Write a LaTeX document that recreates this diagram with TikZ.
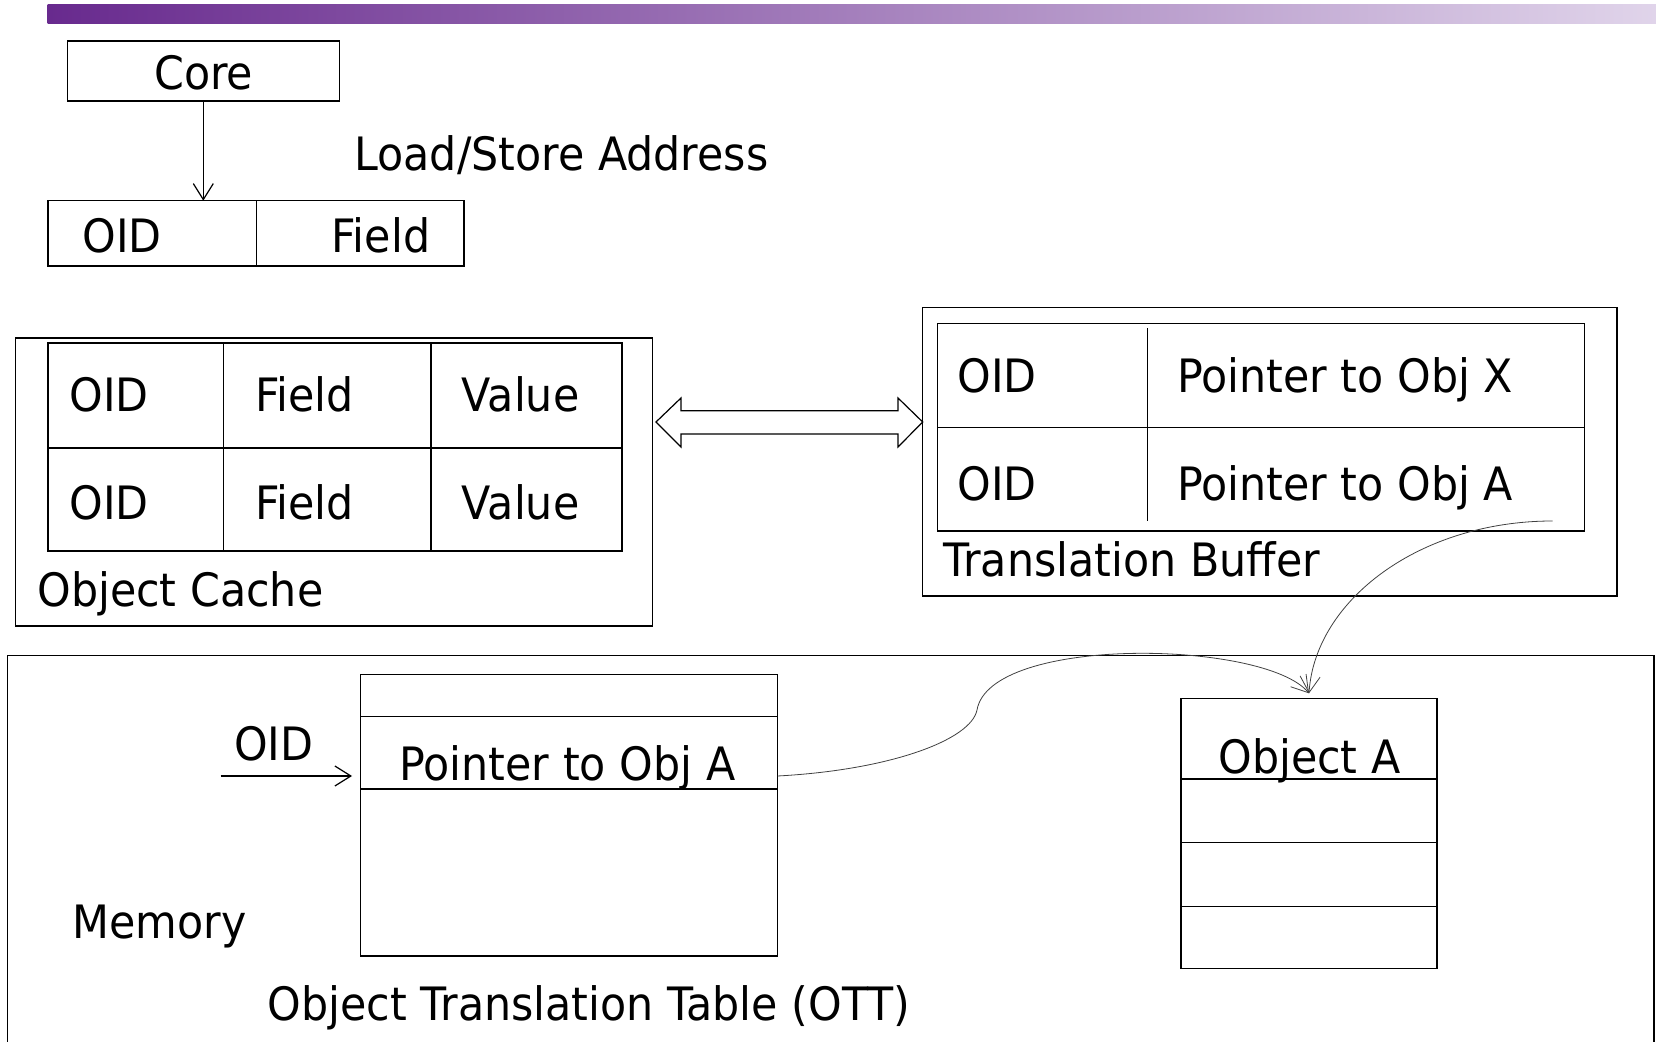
\documentclass[tikz,border=0pt]{standalone}
\usepackage{fontspec}
\setmainfont{DejaVu Sans}[FakeStretch=0.93]
\usetikzlibrary{arrows.meta,fit,calc}
\definecolor{barL}{RGB}{104,42,142}
\definecolor{barM}{RGB}{152,114,174}
\definecolor{barR}{RGB}{224,212,234}
\begin{document}
\begin{tikzpicture}[x=0.5pt,y=-0.5pt,
  box/.style={draw=black,line width=0.55pt,inner sep=0pt,outer sep=0pt},
  rule/.style={draw=black,line width=0.55pt},
  txt/.style={anchor=base west,inner sep=0pt,font=\fontsize{23pt}{27pt}\selectfont},
  barb/.style={draw=black,line width=0.6pt,-{Straight Barb[length=8pt,width=10pt]}},
  link/.style={draw=black!75,line width=0.4pt,-{Straight Barb[length=8pt,width=10pt]}},
  hollowarrow/.style={draw=black,line width=0.6pt,fill=white}]
\useasboundingbox (0,0) rectangle (1656,1042);
\clip (0,0) rectangle (1656,1042);

% title bar
\shade[left color=barL,middle color=barM,right color=barR] (47.5,5) rectangle (1656,23.5);

% core and the load/store address
\node[box,fit={(67.3,41)(339.3,101)}] (core) {};
\node[txt,anchor=base] at (203.7,89.5) {Core};
\node[txt] at (354,171) {Load/Store Address};
\node[box,fit={(48,200.7)(464,266)}] (addr) {};
\draw[rule] (256.6,200.7) -- (256.6,266);
\node[txt] at (82,252.5) {OID};
\node[txt] at (331,252.5) {Field};
\draw[barb] (core.south) -- (core.south |- addr.north);

% object cache
\node[box,fit={(15.8,338)(652.7,626)}] (cache) {};
\node[box,fit={(48,343)(622,551)}] (ctab) {};
\draw[rule] (48,448) -- (622,448);
\draw[rule] (223.3,343) -- (223.3,551);
\draw[rule] (431,343) -- (431,551);
\node[txt] at (69,412) {OID};
\node[txt] at (254.7,412) {Field};
\node[txt] at (461.5,412) {Value};
\node[txt] at (69,520) {OID};
\node[txt] at (254.7,520) {Field};
\node[txt] at (461.5,520) {Value};
\node[txt] at (37,607) {Object Cache};

% translation buffer
\node[box,fit={(922.7,307.3)(1617,596)}] (tb) {};
\node[box,fit={(937.6,323.3)(1584.7,531)}] (tbtab) {};
\draw[rule] (937.6,427.3) -- (1584.7,427.3);
\draw[rule] (1147.3,328.3) -- (1147.3,521);
\node[txt] at (957,393) {OID};
\node[txt] at (1176.7,393) {Pointer to Obj X};
\node[txt] at (957,500.3) {OID};
\node[txt] at (1176.7,500.3) {Pointer to Obj A};
\node[txt] at (943,577) {Translation Buffer};

% two-way arrow between cache and buffer
\coordinate (dl) at (656,422);
\coordinate (dr) at (tb.west |- dl);
\draw[hollowarrow] (dl) -- (681,398) -- (681,410.7) -- (898,410.7) -- (898,398)
  -- (dr) -- (898,447) -- (898,434) -- (681,434) -- (681,447) -- cycle;

% memory
\node[box,fit={(7.3,655.7)(1654,1070)}] (memory) {};
\node[txt] at (72.2,938.7) {Memory};

% object translation table
\node[box,fit={(360.9,674.3)(777.7,956)}] (ott) {};
\draw[rule] (360.9,716.7) -- (777.7,716.7);
\draw[rule] (360.9,789) -- (777.7,789);
\node[txt] at (399,780.5) {Pointer to Obj A};
\node[txt] at (233.8,761) {OID};
\coordinate (oidin) at (220.7,776);
\coordinate (oidtip) at (352,776);
\draw[barb] (oidin) -- (oidtip);
\node[txt] at (267.4,1020.3) {Object Translation Table (OTT)};

% object A
\node[box,fit={(1181,698.3)(1437,968.4)}] (obja) {};
\draw[rule] (1181,779) -- (1437,779);
\draw[rule] (1181,842.5) -- (1437,842.5);
\draw[rule] (1181,906.5) -- (1437,906.5);
\node[txt] at (1218,773.5) {Object A};

% pointers to object A
\coordinate (tbA) at (1552.6,521);
\draw[link] (ott.east |- oidin) .. controls (890,770) and (971,740) .. (977,710)
  .. controls (990,635) and (1265,640) .. ([yshift=2.5pt]obja.north);
\draw[link] (tbA) .. controls (1420,521) and (1315,600) .. ([yshift=2.5pt]obja.north);
\end{tikzpicture}
\end{document}
